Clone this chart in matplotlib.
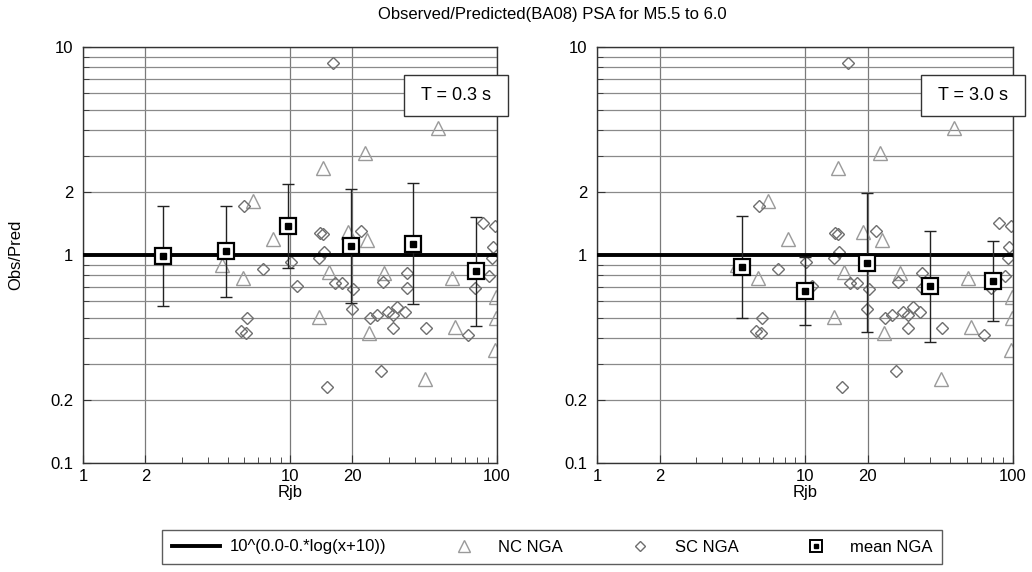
import matplotlib.pyplot as plt
from matplotlib.lines import Line2D
from matplotlib.patches import Rectangle

plt.rcParams['font.family'] = ['Liberation Sans', 'DejaVu Sans']
plt.rcParams['font.size'] = 12

# NC NGA (triangles) - same scatter in both panels
nc_rjb = [4.69, 5.93, 6.63, 8.28, 14.4, 23.0, 51.9, 19.1, 23.5, 15.4, 28.5, 60.6,
          98.9, 13.8, 24.1, 62.7, 98.9, 97.8, 44.9]
nc_ratio = [0.895, 0.775, 1.82, 1.19, 2.62, 3.09, 4.08, 1.29, 1.18, 0.828, 0.82, 0.775,
            0.628, 0.503, 0.422, 0.451, 0.498, 0.349, 0.253]

# SC NGA (diamonds)
sc_rjb = [6.0, 7.41, 10.1, 10.8, 14.0, 14.4, 22.0, 14.6, 13.8, 16.5, 17.8, 20.2,
          19.9, 24.3, 26.3, 29.7, 32.9, 35.9, 31.4, 31.4, 45.4, 72.4, 27.5, 15.1,
          16.1, 85.6, 97.8, 95.7, 94.6, 91.5, 78.3, 28.1, 36.7, 36.7, 6.2, 5.8, 6.14]
sc_ratio = [1.72, 0.856, 0.925, 0.71, 1.276, 1.262, 1.30, 1.034, 0.967, 0.733, 0.733, 0.686,
            0.55, 0.498, 0.515, 0.532, 0.562, 0.532, 0.515, 0.446, 0.446, 0.413, 0.277, 0.232,
            8.38, 1.425, 1.379, 1.093, 0.967, 0.793, 0.694, 0.742, 0.82, 0.694, 0.498, 0.431, 0.422]

# mean NGA with error bars (upper / lower ends)
mean_rjb_03 = [2.44, 4.9, 9.8, 19.7, 39.3, 79.0]
mean_03 = [0.989, 1.045, 1.379, 1.105, 1.13, 0.838]
hi_03 = [1.72, 1.72, 2.195, 2.076, 2.22, 1.523]
lo_03 = [0.569, 0.628, 0.866, 0.588, 0.581, 0.455]

mean_rjb_30 = [5.0, 10.0, 19.9, 39.9, 80.0]
mean_30 = [0.875, 0.671, 0.915, 0.71, 0.75]
hi_30 = [1.54, 0.978, 1.987, 1.304, 1.168]
lo_30 = [0.498, 0.461, 0.426, 0.382, 0.482]

model_x = [1, 100]
model_y = [1.0, 1.0]

periods = ['T = 0.3 s', 'T = 3.0 s']

fig = plt.figure(figsize=(10.32, 5.72), dpi=100)
fig.text(552 / 1032, 1 - 14 / 572, 'Observed/Predicted(BA08) PSA for M5.5 to 6.0', ha='center', va='center')

axes = [fig.add_axes([83 / 1032, 1 - 463 / 572, 414 / 1032, 416 / 572]),
        fig.add_axes([597 / 1032, 1 - 463 / 572, 416 / 1032, 416 / 572])]

means = [(mean_rjb_03, mean_03, hi_03, lo_03), (mean_rjb_30, mean_30, hi_30, lo_30)]
box_left = [404, 921]

for i, ax in enumerate(axes):
    ax.set_xscale('log')
    ax.set_yscale('log')
    ax.set_xlim(1, 100)
    ax.set_ylim(0.1, 10)
    ax.set_xticks([1, 2, 10, 20, 100])
    ax.set_xticklabels(['1', '2', '10', '20', '100'])
    ax.set_xticks([3, 4, 5, 6, 7, 8, 9, 30, 40, 50, 60, 70, 80, 90], minor=True)
    ax.set_yticks([0.1, 0.2, 1, 2, 10])
    ax.set_yticklabels(['0.1', '0.2', '1', '2', '10'])
    ax.set_yticks([0.3, 0.4, 0.5, 0.6, 0.7, 0.8, 0.9, 3, 4, 5, 6, 7, 8, 9], minor=True)
    ax.xaxis.set_minor_formatter(plt.NullFormatter())
    ax.yaxis.set_minor_formatter(plt.NullFormatter())
    ax.tick_params(which='both', direction='in', color='#333333')
    ax.tick_params(which='major', length=6)
    ax.tick_params(axis='x', which='major', pad=4)
    ax.tick_params(axis='y', which='major', pad=7)
    ax.tick_params(which='minor', length=4)
    ax.grid(True, which='major', axis='x', color='#7a7a7a', lw=0.9)
    ax.grid(True, which='both', axis='y', color='#8a8a8a', lw=0.9)
    ax.set_axisbelow(True)
    for s in ax.spines.values():
        s.set_color('#333333')
        s.set_linewidth(1.0)

    ax.plot(model_x, model_y, color='black', lw=2.8, zorder=3)
    ax.plot(nc_rjb, nc_ratio, ls='none', marker='^', ms=9.5, mfc='none', mec='#9a9a9a', mew=1.0, zorder=2)
    ax.plot(sc_rjb, sc_ratio, ls='none', marker='D', ms=6.5, mfc='none', mec='#6e6e6e', mew=1.0, zorder=2)

    mx, my, hi, lo = means[i]
    yerr = [[m - l for m, l in zip(my, lo)], [h - m for m, h in zip(my, hi)]]
    ax.errorbar(mx, my, yerr=yerr, fmt='none', ecolor='#222222', elinewidth=1.0, capsize=4, capthick=1.0, zorder=4)
    ax.plot(mx, my, ls='none', marker='s', ms=12, mfc='white', mec='black', mew=1.6, zorder=5)
    ax.plot(mx, my, ls='none', marker='s', ms=5, mfc='black', mec='black', zorder=6)

    ax.set_xlabel('Rjb')
    ax.xaxis.set_label_coords(0.5, -0.052)
    if i == 0:
        ax.set_ylabel('Obs/Pred')
        ax.yaxis.set_label_coords(-0.145, 0.5)

    fig.add_artist(Rectangle((box_left[i] / 1032, 1 - 116 / 572), 104 / 1032, 41 / 572,
                             transform=fig.transFigure, facecolor='white', edgecolor='#333333', lw=1.0, zorder=10))
    fig.text((box_left[i] + 52) / 1032, 1 - 95.5 / 572, periods[i], ha='center', va='center', fontsize=13, zorder=11)

handles = [Line2D([], [], color='black', lw=2.8),
           Line2D([], [], ls='none', marker='^', ms=8, mfc='none', mec='#9a9a9a'),
           Line2D([], [], ls='none', marker='D', ms=5.5, mfc='none', mec='#6e6e6e'),
           (Line2D([], [], ls='none', marker='s', ms=9, mfc='white', mec='black', mew=1.4),
            Line2D([], [], ls='none', marker='s', ms=3.5, mfc='black', mec='black'))]
labels = ['10^(0.0-0.*log(x+10))', 'NC NGA', 'SC NGA', 'mean NGA']
leg = fig.legend(handles, labels, loc='center', bbox_to_anchor=(552 / 1032, 1 - 547 / 572), ncol=4,
                 frameon=True, fancybox=False, edgecolor='#333333', handlelength=2.9,
                 columnspacing=3.2, handletextpad=0.6, borderpad=0.55, fontsize=12)
leg.get_frame().set_linewidth(1.0)

fig.savefig('out.png', dpi=100)
